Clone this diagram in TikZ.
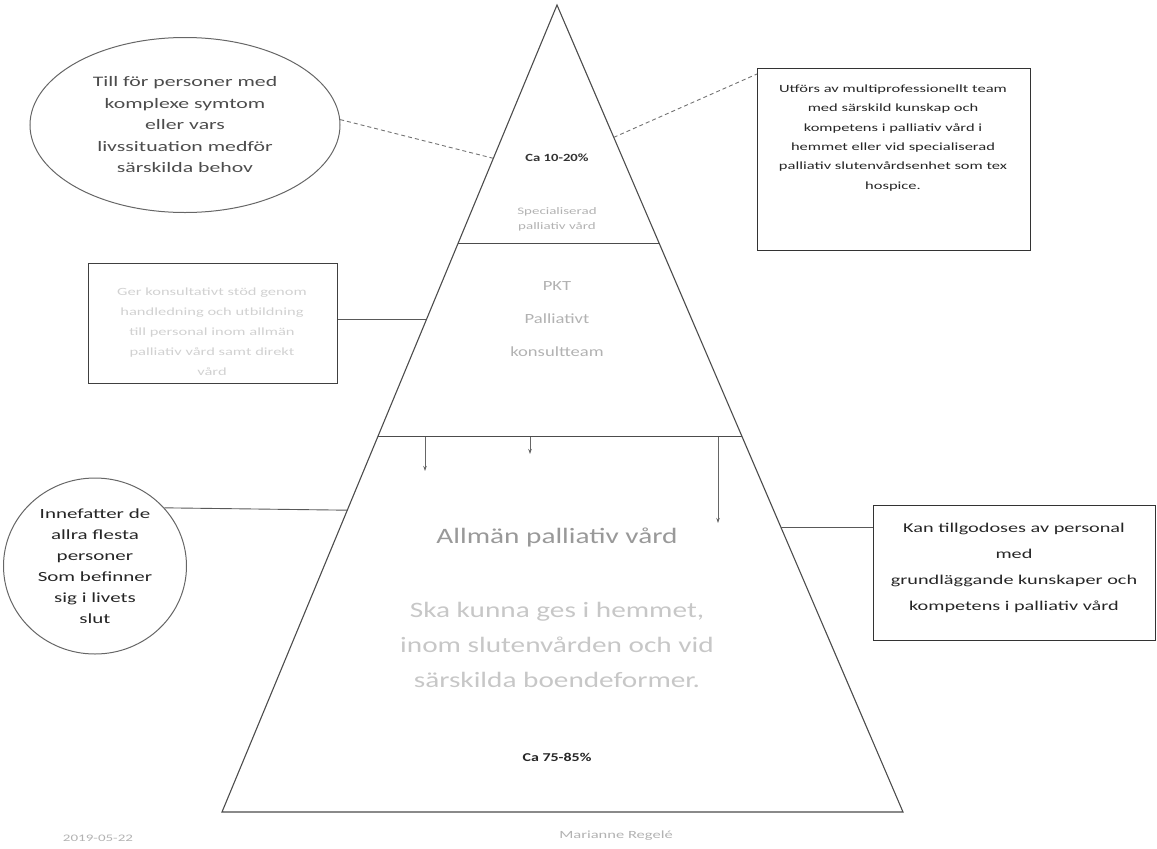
\documentclass[tikz,border=0pt]{standalone}
\usepackage{fontspec}
\setmainfont{Carlito}
\newfontfamily\wideA[FakeStretch=1.5]{Carlito}
\newfontfamily\wideB[FakeStretch=1.33]{Carlito}
\usetikzlibrary{calc,shapes.geometric,arrows.meta}
\begin{document}
\begin{tikzpicture}[x=1pt,y=-1pt,
  outline/.style={draw=black!70,line width=1.1pt},
  conn/.style={draw=black!65,line width=0.9pt},
  dconn/.style={draw=black!55,line width=0.9pt,dashed,dash pattern=on 4pt off 3pt},
  textbox/.style={draw=black!80,line width=1.2pt,align=center,inner sep=2pt},
  ovalbox/.style={draw=black!60,line width=1pt,ellipse,align=center,inner sep=0pt},
  faint/.style={text=black!30},
  arr/.style={draw=black!60,line width=0.8pt,-{Stealth[length=5pt,width=3.5pt]}}
]
\useasboundingbox (0,0) rectangle (1157,849);
% pyramid
\coordinate (A) at (557,5);
\coordinate (BL) at (222,812);
\coordinate (BR) at (903,812);
\draw[outline] (A) -- (BL) -- (BR) -- cycle;
\coordinate (d1l) at ($(A)!0.295!(BL)$);
\coordinate (d1r) at ($(A)!0.295!(BR)$);
\coordinate (d2l) at ($(A)!0.535!(BL)$);
\coordinate (d2r) at ($(A)!0.535!(BR)$);
\draw[outline] (d1l) -- (d1r);
\draw[outline] (d2l) -- (d2r);
% arrows from second divider
\coordinate (a1s) at (425,437); \coordinate (a1e) at (425,471);
\coordinate (a2s) at (530,437); \coordinate (a2e) at (530,454);
\coordinate (a3s) at (718,437); \coordinate (a3e) at (718,523);
\draw[arr] (a1s) -- (a1e);
\draw[arr] (a2s) -- (a2e);
\draw[arr] (a3s) -- (a3e);
% pyramid texts
\node[font=\wideB\bfseries\fontsize{11}{13}\selectfont,text=black!80] (ca1) at (557,158) {Ca 10-20\%};
\node[faint,align=center,font=\wideA\fontsize{10}{15}\selectfont] (spec) at (557,219) {Specialiserad\\palliativ vård};
\node[faint,align=center,font=\wideB\fontsize{14}{33}\selectfont] (pkt) at (557,319) {PKT\\Palliativt\\konsultteam};
\node[text=black!40,font=\wideB\fontsize{22}{26}\selectfont] (allm) at (557,537) {Allmän palliativ vård};
\node[text=black!22,align=center,font=\wideB\fontsize{22}{35}\selectfont] (ska) at (557,645) {Ska kunna ges i hemmet,\\inom slutenvården och vid\\särskilda boendeformer.};
\node[font=\wideB\bfseries\fontsize{12}{14}\selectfont,text=black!85] (ca2) at (557,757) {Ca 75-85\%};
% top-left ellipse
\node[ovalbox,minimum width=310pt,minimum height=175pt,text=black!70,font=\wideA\fontsize{14.5}{21.5}\selectfont] (e1) at (185,125) {Till för personer med\\komplexe symtom\\eller vars\\livssituation medför\\särskilda behov};
\coordinate (t1) at ($(A)!0.19!(BL)$);
\draw[dconn] (e1.2) -- (t1);
% top-right box
\node[textbox,minimum width=273pt,minimum height=182pt,anchor=north west] (b2) at (757,68) {};
\node[text=black!85,align=center,font=\wideA\fontsize{11}{19.3}\selectfont] (b2t) at (893,138) {Utförs av multiprofessionellt team\\med särskild kunskap och\\kompetens i palliativ vård i\\hemmet eller vid specialiserad\\palliativ slutenvårdsenhet som tex\\hospice.};
\coordinate (t2) at ($(A)!0.164!(BR)$);
\coordinate (b2c) at (757,74);
\draw[dconn] (t2) -- (b2c);
% left middle box
\node[textbox,minimum width=249pt,minimum height=120pt,anchor=north west,draw=black!75] (b3) at (88,263) {};
\node[text=black!18,align=center,font=\wideA\fontsize{11}{20}\selectfont] (b3t) at (212,332) {Ger konsultativt stöd genom\\handledning och utbildning\\till personal inom allmän\\palliativ vård samt direkt\\vård};
\coordinate (t3) at ($(A)!0.39!(BL)$);
\draw[conn] (b3.east |- t3) -- (t3);
% bottom-left circle
\node[ovalbox,minimum width=183pt,minimum height=176pt,text=black!85,font=\wideA\fontsize{14}{21}\selectfont] (c1) at (95,566) {Innefatter de\\allra flesta\\personer\\Som befinner\\sig i livets\\slut};
\coordinate (t4) at ($(A)!0.626!(BL)$);
\draw[conn] (c1.40) -- (t4);
% bottom-right box
\node[textbox,minimum width=282pt,minimum height=135pt,anchor=north west] (b4) at (873,505) {};
\node[text=black!85,align=center,font=\wideA\fontsize{13.5}{26}\selectfont] (b4t) at (1014,568) {Kan tillgodoses av personal\\med\\grundläggande kunskaper och\\kompetens i palliativ vård};
\coordinate (t5) at ($(A)!0.647!(BR)$);
\draw[conn] (t5) -- (b4.west |- t5);
% footer
\node[text=black!30,font=\wideA\fontsize{10}{12}\selectfont] (f1) at (98,838) {2019-05-22};
\node[text=black!30,font=\wideA\fontsize{11}{13}\selectfont] (f2) at (616,836) {Marianne Regelé};
\end{tikzpicture}
\end{document}
